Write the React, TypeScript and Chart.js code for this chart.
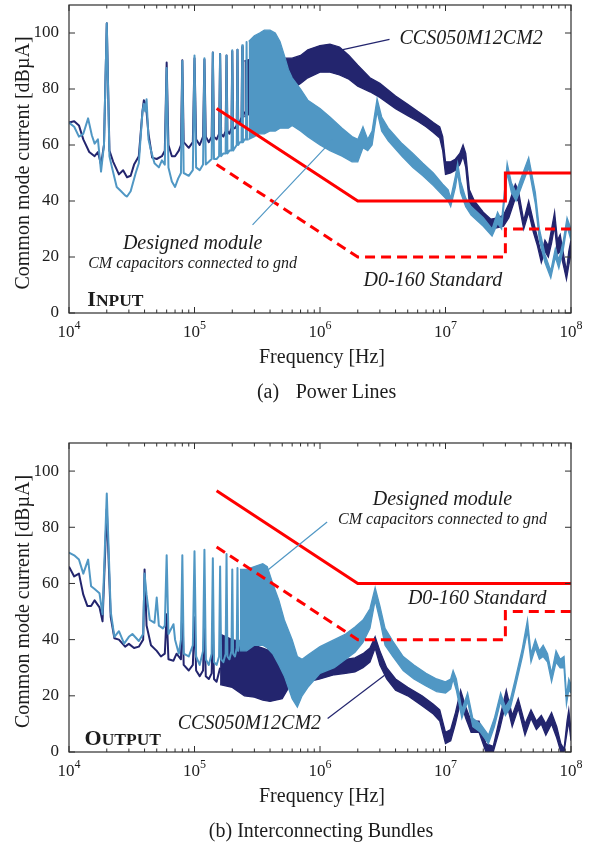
import { useEffect, useRef } from "react";
import { Chart, registerables } from "chart.js";

Chart.register(...registerables);

type Pt = [number, number];
type Band = [number, number, number]; // [frequency, upper edge, lower edge]

const SERIF = '"Liberation Serif", "Times New Roman", Times, serif';
const NAVY = "#23256e";
const SKY = "#5097c4";
const RED = "#ff0000";
const INK = "#1c1c1c";
const FRAME = "#2e2e2e";

// Axis ticks
const freqMajor = [1e4, 1e5, 1e6, 1e7, 1e8];
const freqMinorSteps = [2, 3, 4, 5, 6, 7, 8, 9];
const levelTicks = [0, 20, 40, 60, 80, 100];

// ---------- (a) Power lines: input ----------
// CCS050M12CM2, harmonic region
const inSwitchTrace: Pt[] = [
  [1e4, 68], [1.1e4, 68.5], [1.2e4, 67], [1.3e4, 62], [1.45e4, 57.5], [1.6e4, 56], [1.7e4, 57.5],
  [1.8e4, 53], [1.9e4, 60], [2e4, 103.5], [2.1e4, 58], [2.25e4, 54], [2.5e4, 49.5], [2.7e4, 51],
  [2.9e4, 48.5], [3.1e4, 49], [3.3e4, 53], [3.6e4, 56], [3.85e4, 72], [3.95e4, 76], [4.1e4, 74.5],
  [4.3e4, 64], [4.6e4, 55.5], [5e4, 55], [5.5e4, 56], [5.8e4, 58], [6e4, 89.5], [6.2e4, 60],
  [6.6e4, 56], [7e4, 56], [7.5e4, 58], [7.8e4, 60], [8e4, 90.3], [8.2e4, 61], [9e4, 59],
  [9.7e4, 61], [1e5, 91], [1.03e5, 62], [1.1e5, 60], [1.17e5, 63], [1.2e5, 90.5], [1.23e5, 63],
  [1.3e5, 61], [1.37e5, 63], [1.4e5, 93], [1.43e5, 63], [1.5e5, 62], [1.57e5, 64], [1.6e5, 92.5],
  [1.63e5, 64], [1.7e5, 63], [1.77e5, 65], [1.8e5, 92], [1.83e5, 65], [1.9e5, 64], [1.97e5, 66],
  [2e5, 93.5], [2.03e5, 66], [2.1e5, 66], [2.17e5, 67], [2.2e5, 94], [2.23e5, 67], [2.3e5, 68],
  [2.37e5, 70], [2.4e5, 95], [2.43e5, 70], [2.5e5, 72],
];
// CCS050M12CM2, broadband envelope
const inSwitchBand: Band[] = [
  [2.5e5, 90, 70], [3e5, 91, 72], [3.5e5, 91, 73], [4e5, 90, 75], [4.5e5, 91, 76], [5e5, 91, 79],
  [6e5, 91, 80], [7e5, 92, 82], [8e5, 94, 84], [1e6, 95.5, 86], [1.2e6, 96, 86], [1.43e6, 95, 85],
  [1.7e6, 92, 83.5], [2e6, 88.5, 81], [2.5e6, 84, 79], [3e6, 82, 77], [4e6, 77.5, 73],
  [5e6, 74.5, 70.5], [6e6, 72, 68.5], [7e6, 70, 66.5], [8e6, 68, 64.5], [9e6, 66.5, 62.5],
  [9.5e6, 63, 58], [1e7, 54, 49.5], [1.1e7, 54, 50], [1.2e7, 55, 51], [1.3e7, 57, 53],
  [1.38e7, 60, 56], [1.45e7, 57, 52], [1.55e7, 44, 39], [1.7e7, 40, 35], [2e7, 36, 31.5],
  [2.3e7, 33.5, 30], [2.6e7, 34, 30.5], [2.9e7, 35, 31], [3.2e7, 39, 34], [3.6e7, 46, 41],
  [3.8e7, 44, 40], [4.2e7, 33, 30], [4.6e7, 40, 36], [5e7, 33, 29], [5.4e7, 27, 24], [5.8e7, 21, 18],
  [6.2e7, 26, 22], [6.6e7, 24, 20], [7e7, 30, 25], [7.4e7, 36, 31], [7.8e7, 26, 21], [8.2e7, 28, 22],
  [8.8e7, 20, 16], [9.2e7, 15, 12], [9.6e7, 22, 17], [1e8, 26, 21],
];
// Designed module, harmonic region
const inModuleTrace: Pt[] = [
  [1e4, 68], [1.1e4, 66.5], [1.2e4, 63], [1.3e4, 64], [1.42e4, 69.5], [1.52e4, 63.5], [1.6e4, 60.5],
  [1.7e4, 62], [1.8e4, 50.5], [1.9e4, 60], [2e4, 103.5], [2.1e4, 56], [2.2e4, 52], [2.4e4, 45],
  [2.6e4, 43.5], [2.8e4, 42], [2.9e4, 41.6], [3.1e4, 43.5], [3.4e4, 50], [3.6e4, 53.5], [3.85e4, 72],
  [3.95e4, 74.7], [4.05e4, 72], [4.15e4, 76.3], [4.3e4, 62], [4.5e4, 58], [4.8e4, 53.5], [5.2e4, 52],
  [5.5e4, 54.5], [5.8e4, 53], [6e4, 87.5], [6.2e4, 52], [6.6e4, 47], [7e4, 45], [7.4e4, 48],
  [7.8e4, 50], [8e4, 90], [8.2e4, 50], [9e4, 49], [9.7e4, 51], [1e5, 92], [1.03e5, 52], [1.1e5, 51],
  [1.17e5, 53], [1.2e5, 91], [1.23e5, 53], [1.3e5, 54], [1.37e5, 55], [1.4e5, 93], [1.43e5, 55],
  [1.5e5, 55], [1.57e5, 56], [1.6e5, 92.5], [1.63e5, 56], [1.7e5, 57], [1.77e5, 57], [1.8e5, 92],
  [1.83e5, 57], [1.9e5, 58], [1.97e5, 58], [2e5, 93.8], [2.03e5, 58], [2.1e5, 59], [2.17e5, 60],
  [2.2e5, 94], [2.23e5, 60], [2.3e5, 61], [2.37e5, 61], [2.4e5, 95.6], [2.43e5, 61], [2.5e5, 62],
  [2.57e5, 62], [2.6e5, 96.8], [2.63e5, 62], [2.7e5, 62],
];
// Designed module, broadband envelope
const inModuleBand: Band[] = [
  [2.7e5, 97, 62], [3e5, 99, 63], [3.3e5, 100, 64], [3.6e5, 101, 64], [4e5, 101, 65], [4.4e5, 100, 65],
  [4.8e5, 97, 66], [5.2e5, 92, 66], [5.6e5, 87, 66], [6e5, 84, 67], [7e5, 80, 65], [8e5, 76, 63],
  [1e6, 73, 60], [1.2e6, 70, 58], [1.5e6, 66, 56], [1.8e6, 63, 54], [2e6, 62, 54], [2.2e6, 66.5, 59],
  [2.4e6, 62, 58], [2.6e6, 65, 60], [2.85e6, 76.5, 72], [3.1e6, 70, 65], [3.5e6, 66, 61.5],
  [4.5e6, 60.5, 56], [5.5e6, 57, 52], [6.6e6, 53.5, 49], [8e6, 50, 45.5], [9.5e6, 46, 42],
  [1.05e7, 44, 40], [1.1e7, 41, 38], [1.2e7, 49, 45], [1.25e7, 53.5, 50], [1.32e7, 47, 43],
  [1.45e7, 41, 38], [1.6e7, 38, 35], [2e7, 34, 31], [2.35e7, 30, 27.5], [2.6e7, 36, 32], [2.8e7, 33, 30],
  [3.1e7, 53.5, 50], [3.35e7, 46.5, 43], [3.65e7, 43, 40], [3.95e7, 47.5, 44], [4.6e7, 55.5, 52],
  [5.2e7, 43, 39], [5.6e7, 30, 26], [6.2e7, 21, 18], [6.9e7, 15, 12.5], [7.5e7, 23, 20], [8e7, 19, 16],
  [8.7e7, 26, 23], [9.3e7, 34, 31], [1e8, 30, 26],
];
// DO-160 limits
const inLimitSolid: Pt[] = [[1.5e5, 73], [2e6, 40], [3e7, 40], [3e7, 50], [1e8, 50]];
const inLimitDashed: Pt[] = [[1.5e5, 53], [2e6, 20], [3e7, 20], [3e7, 30], [1e8, 30]];

// ---------- (b) Interconnecting bundles: output ----------
const outSwitchTrace: Pt[] = [
  [1e4, 66], [1.1e4, 62.5], [1.2e4, 63.5], [1.3e4, 56], [1.4e4, 52], [1.5e4, 52], [1.6e4, 54],
  [1.75e4, 51.5], [1.85e4, 46.5], [2e4, 86.5], [2.15e4, 48], [2.3e4, 40.5], [2.5e4, 40], [2.8e4, 37.5],
  [3e4, 38.5], [3.3e4, 37], [3.6e4, 37.5], [3.9e4, 40], [4e4, 65], [4.15e4, 45], [4.5e4, 38], [5e4, 36],
  [5.4e4, 34], [5.8e4, 35], [6e4, 49], [6.2e4, 33], [6.8e4, 32.5], [7.2e4, 35], [7.8e4, 33], [8e4, 52],
  [8.2e4, 31], [9e4, 29], [9.7e4, 31], [1e5, 48], [1.03e5, 29], [1.1e5, 27], [1.17e5, 29], [1.2e5, 47],
  [1.23e5, 27], [1.3e5, 26], [1.37e5, 28], [1.4e5, 46], [1.43e5, 26], [1.5e5, 25], [1.6e5, 30],
];
const outSwitchBand: Band[] = [
  [1.6e5, 42, 24], [2e5, 40, 23], [2.5e5, 39, 20], [3e5, 38, 19.5], [3.5e5, 37, 18.5], [4e5, 36, 18],
  [5e5, 35, 19], [6e5, 33, 25], [7e5, 32, 26], [8e5, 31, 25], [1e6, 31, 26], [1.3e6, 32, 27.5],
  [1.6e6, 33, 28], [1.9e6, 33.5, 28.5], [2.2e6, 35, 30], [2.5e6, 37, 32], [2.75e6, 41, 37], [3e6, 36, 31],
  [3.4e6, 30, 26], [4e6, 26, 22], [5e6, 23, 20], [6.5e6, 20, 16.5], [8e6, 17, 13.5], [9e6, 15, 11],
  [1e7, 7, 3], [1.1e7, 8, 4], [1.2e7, 14, 10], [1.32e7, 22, 18], [1.45e7, 16, 12], [1.6e7, 11, 7],
  [1.85e7, 11, 7], [2.1e7, 3, 0], [2.4e7, 2, 0], [2.7e7, 12, 8], [3.05e7, 22, 18], [3.4e7, 13, 9],
  [3.8e7, 19, 15.5], [4.3e7, 10, 6], [4.8e7, 15, 12], [5.3e7, 11, 8], [5.8e7, 13, 10], [6.3e7, 10, 6],
  [7e7, 14, 10], [7.7e7, 9, 5], [8.3e7, 3, 0], [8.8e7, 1, 0], [9.3e7, 11, 7], [9.6e7, 15, 11], [1e8, 8, 4],
];
const outModuleTrace: Pt[] = [
  [1e4, 71], [1.1e4, 70], [1.2e4, 68.5], [1.3e4, 63.5], [1.42e4, 68.5], [1.5e4, 59], [1.6e4, 58],
  [1.75e4, 56.5], [1.85e4, 49], [2e4, 92], [2.15e4, 50], [2.3e4, 41], [2.5e4, 43], [2.75e4, 38.6],
  [3e4, 41], [3.2e4, 42], [3.6e4, 39.5], [3.9e4, 42], [4e4, 63.5], [4.15e4, 56], [4.4e4, 47], [4.8e4, 46],
  [5e4, 55], [5.2e4, 45], [5.6e4, 44], [5.8e4, 45], [6e4, 70], [6.2e4, 42], [6.8e4, 45.5], [7e4, 40],
  [7.5e4, 35], [7.8e4, 40], [8e4, 70], [8.2e4, 35], [9e4, 34], [9.7e4, 38], [1e5, 71.5], [1.03e5, 34],
  [1.1e5, 31], [1.17e5, 36], [1.2e5, 72], [1.23e5, 33], [1.3e5, 31], [1.37e5, 35], [1.4e5, 69],
  [1.43e5, 32], [1.5e5, 31], [1.57e5, 34], [1.6e5, 66], [1.63e5, 33], [1.7e5, 32], [1.77e5, 35],
  [1.8e5, 70.5], [1.83e5, 34], [1.9e5, 33], [1.97e5, 36], [2e5, 65], [2.03e5, 35], [2.1e5, 34],
  [2.17e5, 37], [2.2e5, 65.5], [2.23e5, 36], [2.3e5, 40],
];
const outModuleBand: Band[] = [
  [2.3e5, 65, 36], [2.6e5, 65, 36], [3e5, 66, 38], [3.5e5, 67, 38], [3.8e5, 66, 37], [4.2e5, 60, 35],
  [4.7e5, 54, 31], [5.2e5, 47, 27], [6e5, 40, 19], [6.6e5, 34, 16], [7.2e5, 33, 20], [8e5, 34.5, 23],
  [1e6, 37.5, 28], [1.3e6, 40, 30], [1.6e6, 42, 33], [1.9e6, 44.5, 35.5], [2.2e6, 47, 39], [2.5e6, 51, 44],
  [2.75e6, 58.5, 54], [3e6, 52, 47], [3.3e6, 44, 38], [3.8e6, 39.5, 34], [4.6e6, 34, 29], [5.6e6, 31, 26],
  [7e6, 28, 23.5], [8.5e6, 26, 21.5], [1e7, 25, 21], [1.1e7, 26, 22.5], [1.15e7, 29, 26], [1.22e7, 26, 22],
  [1.35e7, 15, 12], [1.5e7, 21, 18], [1.65e7, 12, 9], [1.9e7, 10, 7], [2.2e7, 6, 3], [2.45e7, 12, 9],
  [2.75e7, 21, 18], [3e7, 16, 13], [3.3e7, 19, 16], [3.6e7, 26, 23], [4.1e7, 37, 34], [4.5e7, 47, 43],
  [4.8e7, 35, 32], [5.2e7, 40, 37], [5.6e7, 36, 33], [6e7, 38, 34], [6.5e7, 35, 32], [7e7, 28, 25],
  [7.6e7, 36, 32], [8.2e7, 33, 30], [8.8e7, 34, 30], [9.2e7, 20, 17], [9.6e7, 26, 22], [1e8, 24, 21],
];
const outLimitSolid: Pt[] = [[1.5e5, 93], [2e6, 60], [1e8, 60]];
const outLimitDashed: Pt[] = [[1.5e5, 73], [2e6, 40], [3e7, 40], [3e7, 50], [1e8, 50]];

type Note = { text: string; at: Pt; size: number; align: CanvasTextAlign };
type Leader = { from: Pt; to: Pt; color: string };
type Decor = {
  notes: Note[];
  leaders: Leader[];
  caseWord: [string, string];
  caseAt: Pt;
  captions: { text: string; x: number }[];
};

const inDecor: Decor = {
  notes: [
    { text: "CCS050M12CM2", at: [4.3e6, 98], size: 20, align: "left" },
    { text: "Designed module", at: [9.66e4, 24.7], size: 20, align: "center" },
    { text: "CM capacitors connected to gnd", at: [9.66e4, 17.6], size: 16, align: "center" },
    { text: "D0-160 Standard", at: [7.94e6, 11.5], size: 20, align: "center" },
  ],
  leaders: [
    { from: [1.43e6, 93.8], to: [3.58e6, 97.7], color: NAVY },
    { from: [2.9e5, 31.5], to: [1.26e6, 61.8], color: SKY },
  ],
  caseWord: ["I", "NPUT"],
  caseAt: [1.4e4, 2.4],
  captions: [
    { text: "(a)", x: 268 },
    { text: "Power Lines", x: 346 },
  ],
};

const outDecor: Decor = {
  notes: [
    { text: "Designed module", at: [9.46e6, 89.9], size: 20, align: "center" },
    { text: "CM capacitors connected to gnd", at: [9.46e6, 82.8], size: 16, align: "center" },
    { text: "D0-160 Standard", at: [1.79e7, 54.5], size: 20, align: "center" },
    { text: "CCS050M12CM2", at: [2.74e5, 10.2], size: 20, align: "center" },
  ],
  leaders: [
    { from: [1.15e6, 11.9], to: [3.27e6, 27.3], color: NAVY },
    { from: [1.14e6, 81.9], to: [3.82e5, 64.7], color: SKY },
  ],
  caseWord: ["O", "UTPUT"],
  caseAt: [1.33e4, 2.4],
  captions: [{ text: "(b) Interconnecting Bundles", x: 321 }],
};

const xy = (pts: Pt[]) => pts.map(([x, y]) => ({ x, y }));

function traceSets(line: Pt[], band: Band[], color: string) {
  return [
    { data: xy(line), borderColor: color, borderWidth: 2, borderJoinStyle: "round", fill: false, pointRadius: 0 },
    {
      data: band.map(([x, hi]) => ({ x, y: hi })),
      borderColor: color,
      backgroundColor: color,
      borderWidth: 1.3,
      fill: "+1",
      pointRadius: 0,
    },
    {
      data: band.map(([x, , lo]) => ({ x, y: lo })),
      borderColor: color,
      borderWidth: 1.3,
      fill: false,
      pointRadius: 0,
    },
  ];
}

function limitSets(solid: Pt[], dashed: Pt[]) {
  return [
    { data: xy(solid), borderColor: RED, borderWidth: 3, fill: false, pointRadius: 0 },
    { data: xy(dashed), borderColor: RED, borderWidth: 3, borderDash: [10, 6], fill: false, pointRadius: 0 },
  ];
}

function decorPlugin(d: Decor) {
  return {
    id: "decor",
    afterDraw(chart: any) {
      const { ctx, chartArea: a, scales } = chart;
      const px = (f: number) => scales.x.getPixelForValue(f);
      const py = (v: number) => scales.y.getPixelForValue(v);
      ctx.save();

      // leader lines
      ctx.lineWidth = 1.2;
      for (const l of d.leaders) {
        ctx.strokeStyle = l.color;
        ctx.beginPath();
        ctx.moveTo(px(l.from[0]), py(l.from[1]));
        ctx.lineTo(px(l.to[0]), py(l.to[1]));
        ctx.stroke();
      }

      // annotations
      ctx.fillStyle = INK;
      ctx.textBaseline = "middle";
      for (const n of d.notes) {
        ctx.font = `italic ${n.size}px ${SERIF}`;
        ctx.textAlign = n.align;
        ctx.fillText(n.text, px(n.at[0]), py(n.at[1]));
      }

      // small-caps case label
      ctx.textBaseline = "alphabetic";
      ctx.textAlign = "left";
      const cx = px(d.caseAt[0]);
      const cy = py(d.caseAt[1]);
      ctx.font = `bold 22px ${SERIF}`;
      ctx.fillText(d.caseWord[0], cx, cy);
      const w0 = ctx.measureText(d.caseWord[0]).width;
      ctx.font = `bold 17.5px ${SERIF}`;
      ctx.fillText(d.caseWord[1], cx + w0, cy);

      // frame
      ctx.strokeStyle = FRAME;
      ctx.lineWidth = 1.2;
      ctx.strokeRect(a.left, a.top, a.right - a.left, a.bottom - a.top);

      // x ticks (inward, bottom and top)
      const tick = (x: number, len: number) => {
        ctx.beginPath();
        ctx.moveTo(x, a.bottom);
        ctx.lineTo(x, a.bottom - len);
        ctx.moveTo(x, a.top);
        ctx.lineTo(x, a.top + len);
        ctx.stroke();
      };
      ctx.lineWidth = 1;
      for (let i = 0; i < freqMajor.length; i++) {
        const f = freqMajor[i];
        tick(px(f), 6);
        if (i < freqMajor.length - 1) for (const m of freqMinorSteps) tick(px(f * m), 3.5);
      }
      // y ticks (inward, left and right)
      for (const v of levelTicks) {
        const y = py(v);
        ctx.beginPath();
        ctx.moveTo(a.left, y);
        ctx.lineTo(a.left + 6, y);
        ctx.moveTo(a.right, y);
        ctx.lineTo(a.right - 6, y);
        ctx.stroke();
      }

      // tick labels
      ctx.fillStyle = INK;
      ctx.textBaseline = "middle";
      ctx.textAlign = "right";
      ctx.font = `17px ${SERIF}`;
      for (const v of levelTicks) ctx.fillText(String(v), a.left - 10, py(v));

      ctx.textBaseline = "alphabetic";
      ctx.textAlign = "left";
      for (const f of freqMajor) {
        const exp = String(Math.round(Math.log10(f)));
        ctx.font = `17px ${SERIF}`;
        const wb = ctx.measureText("10").width;
        ctx.font = `12px ${SERIF}`;
        const we = ctx.measureText(exp).width;
        const x0 = px(f) - (wb + we) / 2;
        ctx.font = `17px ${SERIF}`;
        ctx.fillText("10", x0, a.bottom + 24);
        ctx.font = `12px ${SERIF}`;
        ctx.fillText(exp, x0 + wb, a.bottom + 16);
      }

      // axis titles
      ctx.font = `20px ${SERIF}`;
      ctx.textAlign = "center";
      ctx.textBaseline = "middle";
      ctx.fillText("Frequency [Hz]", (a.left + a.right) / 2 + 2, a.bottom + 45);
      ctx.save();
      ctx.translate(24, (a.top + a.bottom) / 2 + 4);
      ctx.rotate(-Math.PI / 2);
      ctx.fillText("Common mode current [dB\u00b5A]", 0, 0);
      ctx.restore();

      // caption
      for (const c of d.captions) ctx.fillText(c.text, c.x, a.bottom + 80);

      ctx.restore();
    },
  };
}

function Panel({ datasets, decor, padTop, padBottom }: { datasets: any[]; decor: Decor; padTop: number; padBottom: number }) {
  const ref = useRef<HTMLCanvasElement>(null);
  useEffect(() => {
    const chart = new Chart(ref.current as HTMLCanvasElement, {
      type: "line",
      data: { datasets },
      options: {
        animation: false,
        responsive: false,
        parsing: false,
        events: [],
        layout: { padding: { left: 69, right: 30, top: padTop, bottom: padBottom } },
        scales: {
          x: { type: "logarithmic", min: 1e4, max: 1e8, display: false },
          y: { type: "linear", min: 0, max: 110, display: false },
        },
        elements: { point: { radius: 0 }, line: { tension: 0 } },
        plugins: { legend: { display: false }, tooltip: { enabled: false } },
      } as any,
      plugins: [decorPlugin(decor)],
    });
    return () => chart.destroy();
  }, []);
  return <canvas ref={ref} width={601} height={424} style={{ display: "block", width: 601, height: 424 }} />;
}

export default function App() {
  const inSets = [
    ...limitSets(inLimitSolid, inLimitDashed),
    ...traceSets(inModuleTrace, inModuleBand, SKY),
    ...traceSets(inSwitchTrace, inSwitchBand, NAVY),
  ];
  const outSets = [
    ...limitSets(outLimitSolid, outLimitDashed),
    ...traceSets(outModuleTrace, outModuleBand, SKY),
    ...traceSets(outSwitchTrace, outSwitchBand, NAVY),
  ];
  return (
    <div style={{ position: "absolute", left: 0, top: 0, width: 601, height: 848, background: "#fff" }}>
      <Panel datasets={inSets} decor={inDecor} padTop={5} padBottom={111} />
      <Panel datasets={outSets} decor={outDecor} padTop={19} padBottom={96} />
    </div>
  );
}
